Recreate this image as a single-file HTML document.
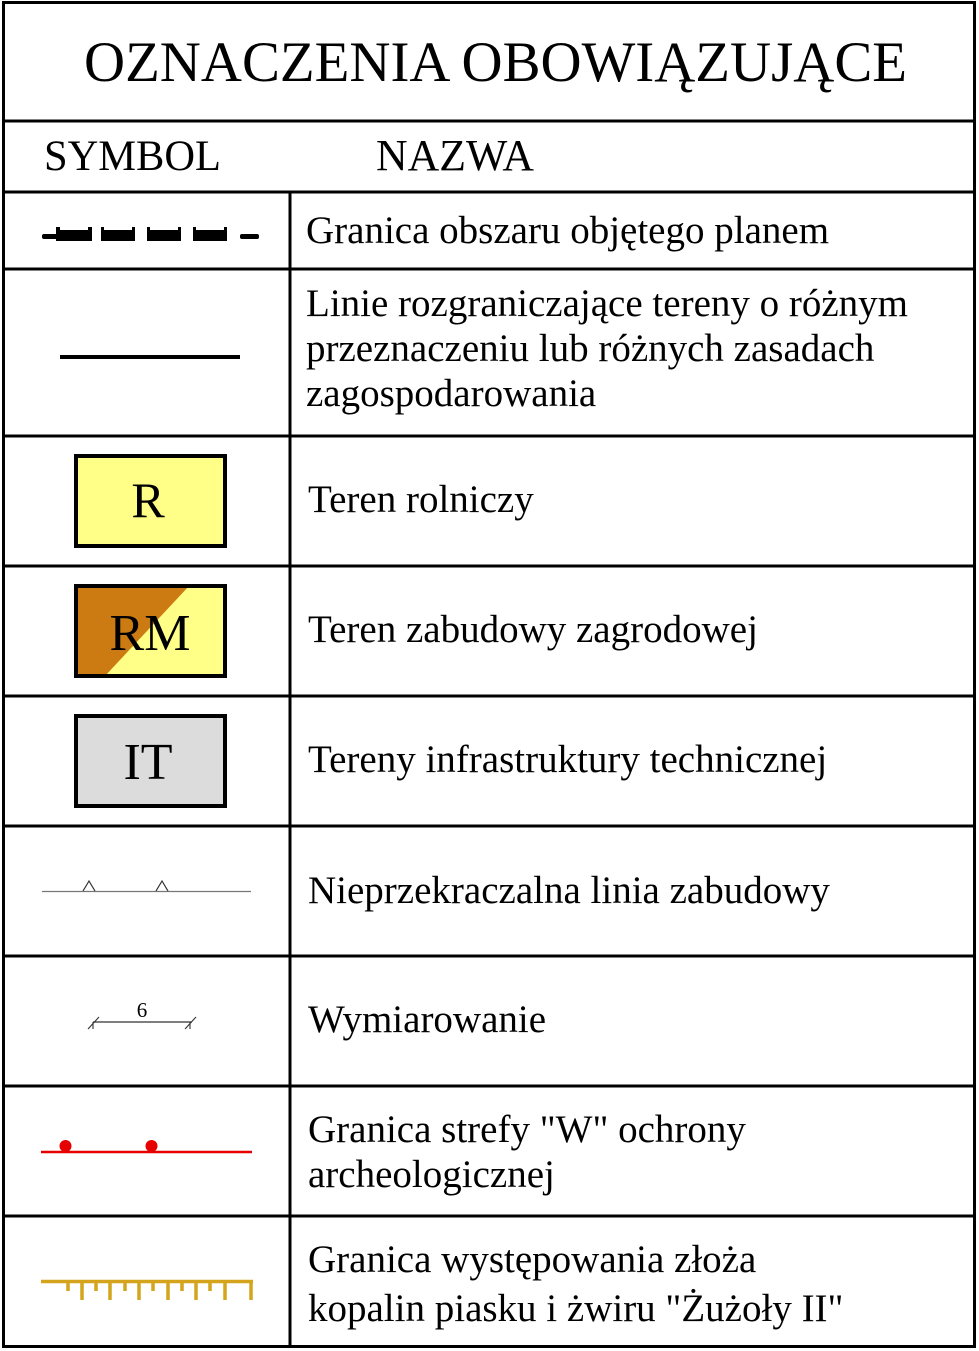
<!DOCTYPE html>
<html><head><meta charset="utf-8"><style>
html,body{margin:0;padding:0;background:#fff;}
svg{display:block;}
text{font-family:"Liberation Serif",serif;fill:#000;}
</style></head><body>
<svg width="979" height="1351" viewBox="0 0 979 1351" xmlns="http://www.w3.org/2000/svg">
<rect x="0" y="0" width="979" height="1351" fill="#fff"/>
<g stroke="#000" stroke-width="3" fill="none">
<rect x="3.5" y="2.5" width="971" height="1344"/>
<line x1="3" y1="121" x2="975" y2="121"/>
<line x1="3" y1="192" x2="975" y2="192"/>
<line x1="3" y1="269" x2="975" y2="269"/>
<line x1="3" y1="436" x2="975" y2="436"/>
<line x1="3" y1="566" x2="975" y2="566"/>
<line x1="3" y1="696" x2="975" y2="696"/>
<line x1="3" y1="826" x2="975" y2="826"/>
<line x1="3" y1="956" x2="975" y2="956"/>
<line x1="3" y1="1086" x2="975" y2="1086"/>
<line x1="3" y1="1216" x2="975" y2="1216"/>
<line x1="290" y1="192" x2="290" y2="1347"/>
</g>
<text x="84" y="81" font-size="57" textLength="823" lengthAdjust="spacingAndGlyphs">OZNACZENIA OBOWIĄZUJĄCE</text>
<text x="44" y="170" font-size="43" textLength="177" lengthAdjust="spacingAndGlyphs">SYMBOL</text>
<text x="376" y="170" font-size="44" textLength="158" lengthAdjust="spacingAndGlyphs">NAZWA</text>

<g fill="#000">
<rect x="42" y="234" width="16" height="5" rx="2"/>
<path d="M56 227 h4 v3 h28 v-3 h4 v14 h-36z"/>
<path d="M101 227 h3 v3 h28 v-3 h3 v14 h-34z"/>
<path d="M147 227 h3 v3 h28 v-3 h3 v14 h-34z"/>
<path d="M193 227 h3 v3 h28 v-3 h3 v14 h-34z"/>
<rect x="240" y="234" width="19" height="5" rx="2"/>
</g>
<text x="306" y="243" font-size="39">Granica obszaru objętego planem</text>

<line x1="60" y1="357" x2="240" y2="357" stroke="#000" stroke-width="4"/>
<text x="306" y="316" font-size="39">Linie rozgraniczające tereny o różnym</text>
<text x="306" y="361" font-size="39">przeznaczeniu lub różnych zasadach</text>
<text x="306" y="406" font-size="39">zagospodarowania</text>

<rect x="76" y="456" width="149" height="90" fill="#ffff88" stroke="#000" stroke-width="4"/>
<text x="148" y="517" font-size="50" text-anchor="middle">R</text>
<text x="308" y="512" font-size="39">Teren rolniczy</text>

<rect x="76" y="586" width="149" height="90" fill="#ffff88"/>
<polygon points="76,586 189,586 105,676 76,676" fill="#cc7a12"/>
<rect x="76" y="586" width="149" height="90" fill="none" stroke="#000" stroke-width="4"/>
<text x="150" y="650" font-size="52" text-anchor="middle">RM</text>
<text x="308" y="642" font-size="39">Teren zabudowy zagrodowej</text>

<rect x="76" y="716" width="149" height="90" fill="#dcdcdc" stroke="#000" stroke-width="4"/>
<text x="148" y="779" font-size="52" text-anchor="middle">IT</text>
<text x="308" y="772" font-size="39">Tereny infrastruktury technicznej</text>

<line x1="42" y1="891.5" x2="251" y2="891.5" stroke="#777" stroke-width="1.3"/>
<path d="M83 891 L89 881 L95 891 M156 891 L162 881 L168 891" stroke="#333" stroke-width="1.2" fill="none"/>
<text x="308" y="903" font-size="39">Nieprzekraczalna linia zabudowy</text>

<line x1="93" y1="1022" x2="192" y2="1022" stroke="#333" stroke-width="1.3"/>
<path d="M88 1029 L99 1017 M93 1022 V1029 M185 1029 L196 1017 M190 1022 V1029" stroke="#333" stroke-width="1.1" fill="none"/>
<text x="142" y="1017" font-size="21" text-anchor="middle">6</text>
<text x="308" y="1032" font-size="39">Wymiarowanie</text>

<line x1="41" y1="1152" x2="252" y2="1152" stroke="#e60000" stroke-width="2.5"/>
<circle cx="65.5" cy="1146" r="6" fill="#e60000"/>
<circle cx="151.5" cy="1146" r="6" fill="#e60000"/>
<text x="308" y="1142" font-size="39">Granica strefy "W" ochrony</text>
<text x="308" y="1187" font-size="39">archeologicznej</text>

<g stroke="#d4a51c" stroke-width="3.5" fill="none">
<line x1="41" y1="1281.5" x2="253" y2="1281.5"/>
<path d="M68 1282v9 M82 1282v18 M96 1282v9 M110 1282v18 M125 1282v9 M139 1282v18 M153 1282v9 M168 1282v18 M182 1282v9 M196 1282v18 M210 1282v9 M225 1282v18 M251 1282v18"/>
</g>
<text x="308" y="1272" font-size="39">Granica występowania złoża</text>
<text x="308" y="1321" font-size="39">kopalin piasku i żwiru "Żużoły II"</text>
</svg>
</body></html>
